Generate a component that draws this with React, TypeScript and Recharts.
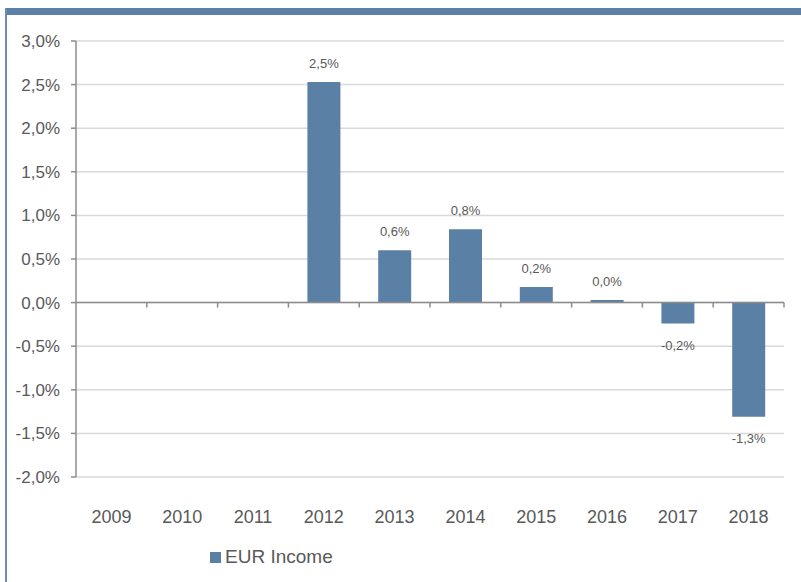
import React from 'react';
import {
  BarChart,
  Bar,
  XAxis,
  YAxis,
  CartesianGrid,
  ReferenceLine,
  LabelList,
} from 'recharts';

const years = ['2009', '2010', '2011', '2012', '2013', '2014', '2015', '2016', '2017', '2018'];
const eurIncome: (number | null)[] = [null, null, null, 2.53, 0.6, 0.84, 0.18, 0.03, -0.24, -1.31];
const yTicks = [-2, -1.5, -1, -0.5, 0, 0.5, 1, 1.5, 2, 2.5, 3];
const seriesName = 'EUR Income';

const data = years.map((year, i) => ({ year, income: eurIncome[i] }));

const BAR_COLOR = '#5b80a5';
const TEXT_COLOR = '#595959';
const AXIS_COLOR = '#8c8c8c';

const pct = (v: number) => v.toFixed(1).replace('.', ',') + '%';

// zero line with small tick marks at the category boundaries
const ZeroLine = (props: any) => {
  const { x1, x2, y1 } = props;
  const step = (x2 - x1) / years.length;
  return (
    <g>
      <line x1={x1} y1={y1} x2={x2} y2={y1} stroke={AXIS_COLOR} strokeWidth={1.5} />
      {years.map((_, i) => {
        const x = x1 + (i + 1) * step;
        return <line key={i} x1={x} y1={y1} x2={x} y2={y1 + 5} stroke={AXIS_COLOR} strokeWidth={1.5} />;
      })}
    </g>
  );
};

const BarLabel = (props: any) => {
  const { value } = props;
  if (value === null || value === undefined) return null;
  const vb = props.viewBox && props.viewBox.width !== undefined ? props.viewBox : props;
  const { x, y, width, height } = vb;
  const top = Math.min(y, y + height);
  const bottom = Math.max(y, y + height);
  const ty = value >= 0 ? top - 14 : bottom + 26;
  return (
    <text x={x + width / 2} y={ty} textAnchor="middle" fontSize={13} fill={TEXT_COLOR}>
      {pct(value)}
    </text>
  );
};

export default function App() {
  return (
    <div
      style={{
        position: 'absolute',
        left: 0,
        top: 0,
        width: 801,
        height: 582,
        background: '#fff',
        fontFamily: '"Liberation Sans", Arial, sans-serif',
        overflow: 'hidden',
      }}
    >
      <BarChart
        width={801}
        height={582}
        data={data}
        margin={{ top: 41, right: 17, bottom: 45, left: 0 }}
      >
        <CartesianGrid vertical={false} stroke="#d9d9d9" strokeWidth={1.5} />
        <XAxis
          dataKey="year"
          axisLine={false}
          tickLine={false}
          tickSize={0}
          tickMargin={33}
          height={60}
          interval={0}
          tick={{ fill: TEXT_COLOR, fontSize: 18 }}
        />
        <YAxis
          width={76}
          domain={[-2, 3]}
          ticks={yTicks}
          tickFormatter={pct}
          axisLine={{ stroke: AXIS_COLOR, strokeWidth: 1.5 }}
          tickLine={{ stroke: AXIS_COLOR, strokeWidth: 1.5 }}
          tickSize={5}
          tickMargin={11}
          tick={{ fill: TEXT_COLOR, fontSize: 17 }}
          allowDataOverflow
        />
        <ReferenceLine y={0} shape={ZeroLine} />
        <Bar dataKey="income" name={seriesName} fill={BAR_COLOR} barSize={33} isAnimationActive={false}>
          <LabelList dataKey="income" content={BarLabel} />
        </Bar>
      </BarChart>
      <div
        style={{
          position: 'absolute',
          left: 210,
          top: 545,
          display: 'flex',
          alignItems: 'center',
          color: TEXT_COLOR,
          fontSize: 19,
          lineHeight: '24px',
        }}
      >
        <span style={{ display: 'inline-block', width: 11, height: 11, background: BAR_COLOR, marginRight: 4 }} />
        <span>{seriesName}</span>
      </div>
      <div style={{ position: 'absolute', left: 5, top: 8, width: 796, height: 7, background: '#5b7fa6' }} />
      <div style={{ position: 'absolute', left: 5, top: 8, width: 2, height: 574, background: '#6a8db2' }} />
    </div>
  );
}
